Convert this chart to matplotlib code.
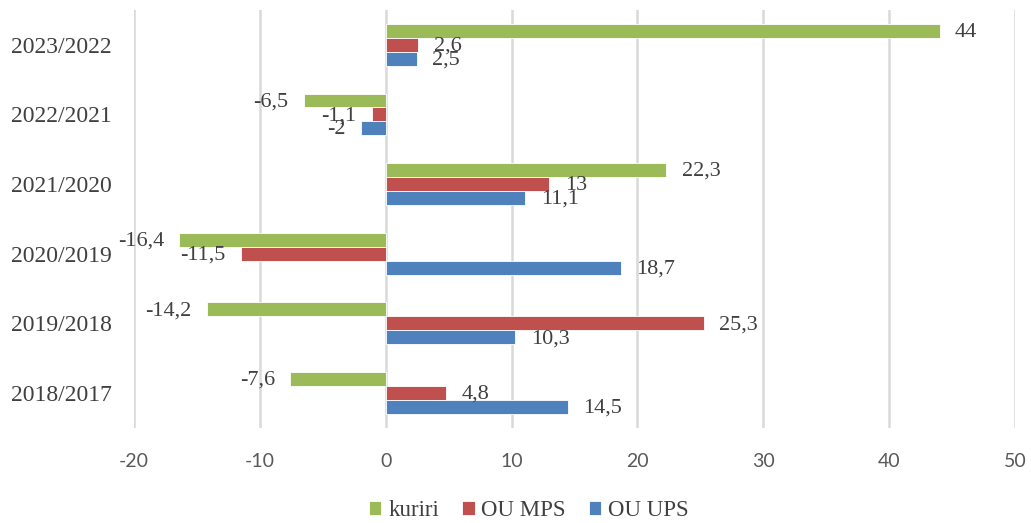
import matplotlib.pyplot as plt
import numpy as np

plt.rcParams['axes.unicode_minus'] = False

# Data
categories = ['2023/2022', '2022/2021', '2021/2020', '2020/2019', '2019/2018', '2018/2017']
kuriri = [44, -6.5, 22.3, -16.4, -14.2, -7.6]
ou_mps = [2.6, -1.1, 13, -11.5, 25.3, 4.8]
ou_ups = [2.5, -2, 11.1, 18.7, 10.3, 14.5]

series = [('kuriri', kuriri, '#9BBB59'),
          ('OU MPS', ou_mps, '#C0504D'),
          ('OU UPS', ou_ups, '#4F81BD')]

serif = ['Liberation Serif', 'DejaVu Serif']
txtcol = '#404040'

fig = plt.figure(figsize=(10.31, 5.23), dpi=100)
ax = fig.add_axes([0.13, 0.182, 0.8545, 0.799])

y = np.arange(len(categories))
h = 0.2
offsets = [-h, 0, h]

for (name, vals, col), off in zip(series, offsets):
    bars = ax.barh(y + off, vals, height=h, color=col, edgecolor='white',
                   linewidth=0.6, label=name, zorder=3)
    for b, v in zip(bars, vals):
        lab = ('%g' % v).replace('.', ',')
        if v >= 0:
            ax.annotate(lab, (v, b.get_y() + h / 2), xytext=(11, -1),
                        textcoords='offset points', ha='left', va='center',
                        fontsize=16, family=serif, color=txtcol, zorder=5)
        else:
            ax.annotate(lab, (v, b.get_y() + h / 2), xytext=(-11, -1),
                        textcoords='offset points', ha='right', va='center',
                        fontsize=16, family=serif, color=txtcol, zorder=5)

ax.set_xlim(-20, 50)
ax.set_ylim(len(categories) - 0.5, -0.5)
ax.set_xticks(np.arange(-20, 51, 10))
ax.set_yticks(y)
ax.set_yticklabels(categories, family=serif, fontsize=17, color=txtcol)
for lab in ax.get_xticklabels():
    lab.set_family(['Lato', 'DejaVu Sans'])
    lab.set_fontsize(14)
    lab.set_color('#595959')
ax.tick_params(axis='both', length=0)
ax.tick_params(axis='x', pad=18)
ax.tick_params(axis='y', pad=16)

ax.grid(axis='x', color='#D9D9D9', linewidth=1.8, zorder=0)
for s in ax.spines.values():
    s.set_visible(False)

fig.legend(*ax.get_legend_handles_labels(), loc='center',
           bbox_to_anchor=(0.513, 0.023), ncol=3,
           frameon=False, prop={'family': serif, 'size': 16.5},
           handlelength=0.55, handleheight=0.55, handletextpad=0.3,
           columnspacing=1.0, labelcolor=txtcol, borderpad=0)

fig.savefig('out.png', dpi=100)
